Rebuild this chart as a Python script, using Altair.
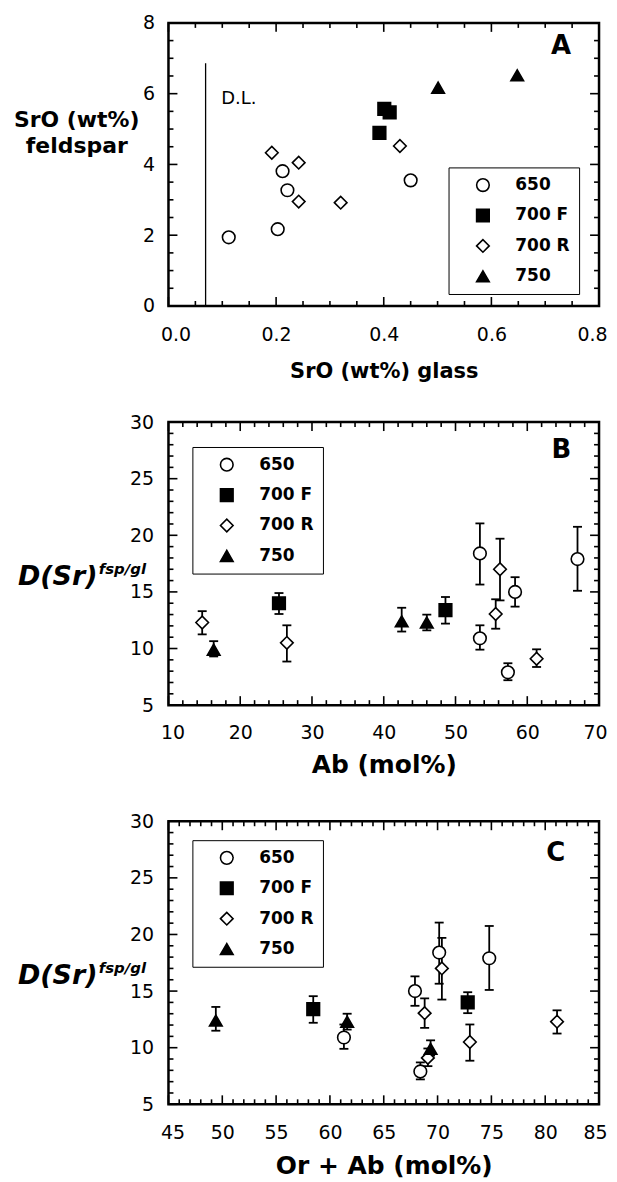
import altair as alt
import pandas as pd

W, H = 432, 284
FONT = "DejaVu Sans"

series_order = ["650", "700 F", "700 R", "750"]
shape_range = ["circle", "square", "diamond", "triangle-up"]
fill_range = ["white", "black", "white", "black"]
stroke_range = ["black", "black", "black", "black"]

# ---------------- Panel A: SrO feldspar vs SrO glass ----------------
a_650_glass = [0.112, 0.203, 0.212, 0.221, 0.450]
a_650_fsp = [1.94, 2.17, 3.81, 3.27, 3.55]
a_700f_glass = [0.392, 0.401, 0.411]
a_700f_fsp = [4.89, 5.57, 5.47]
a_700r_glass = [0.192, 0.242, 0.242, 0.320, 0.430]
a_700r_fsp = [4.33, 4.05, 2.95, 2.92, 4.52]
a_750_glass = [0.501, 0.648]
a_750_fsp = [6.17, 6.52]
dl_glass = [0.069]
dl_top = [6.86]
dl_text_pos = [0.098, 5.86]

# ---------------- Panels B & C: D(Sr) ----------------
ab_650 = [53.4, 67.0, 58.3, 53.4, 57.3]
orab_650 = [70.15, 74.8, 67.9, 61.3, 68.4]
d_650 = [18.4, 17.9, 15.0, 10.9, 7.9]
lo_650 = [15.65, 15.1, 13.7, 9.9, 7.2]
hi_650 = [21.05, 20.75, 16.3, 12.05, 8.7]

ab_700f = [25.4, 48.6]
orab_700f = [72.8, 58.45]
d_700f = [14.0, 13.4]
lo_700f = [13.05, 12.2]
hi_700f = [14.9, 14.55]

ab_700r = [56.2, 55.6, 14.7, 26.5, 61.3]
orab_700r = [70.4, 68.8, 81.1, 73.0, 69.1]
d_700r = [17.0, 13.05, 12.3, 10.5, 9.1]
lo_700r = [14.25, 11.75, 11.25, 8.85, 8.37]
hi_700r = [19.7, 14.35, 13.3, 12.05, 9.93]

ab_750 = [16.3, 42.5, 46.0]
orab_750 = [69.35, 49.4, 61.6]
d_750 = [9.9, 12.4, 12.3]
lo_750 = [9.3, 11.5, 11.6]
hi_750 = [10.65, 13.6, 13.0]


def frame(parts):
    rows = []
    for name, cols in parts:
        n = len(cols[0])
        for i in range(n):
            r = {"series": name, "x": cols[0][i], "y": cols[1][i]}
            if len(cols) > 2:
                r["lo"] = cols[2][i]
                r["hi"] = cols[3][i]
            rows.append(r)
    return pd.DataFrame(rows)


dfA = frame([
    ("650", [a_650_glass, a_650_fsp]),
    ("700 F", [a_700f_glass, a_700f_fsp]),
    ("700 R", [a_700r_glass, a_700r_fsp]),
    ("750", [a_750_glass, a_750_fsp]),
])
dfB = frame([
    ("650", [ab_650, d_650, lo_650, hi_650]),
    ("700 F", [ab_700f, d_700f, lo_700f, hi_700f]),
    ("700 R", [ab_700r, d_700r, lo_700r, hi_700r]),
    ("750", [ab_750, d_750, lo_750, hi_750]),
])
dfC = frame([
    ("650", [orab_650, d_650, lo_650, hi_650]),
    ("700 F", [orab_700f, d_700f, lo_700f, hi_700f]),
    ("700 R", [orab_700r, d_700r, lo_700r, hi_700r]),
    ("750", [orab_750, d_750, lo_750, hi_750]),
])


def ticks(lo, hi, major_step, minor_step):
    n = int(round((hi - lo) / minor_step))
    k = int(round(major_step / minor_step))
    allv = [float(round(lo + i * minor_step, 6)) for i in range(n + 1)]
    major = [v for i, v in enumerate(allv) if i % k == 0]
    minor = [v for i, v in enumerate(allv) if i % k != 0]
    return major, minor


def panel(df, xdom, xstep, xminor, ydom, ystep, yminor, xtitle, xtitle_size,
          xtitle_y, xlab_pad, ylab_pad, xfmt, legend_xy, letter, letter_xy,
          err, ytitle_layers, dl=False):
    xmaj, xmin = ticks(xdom[0], xdom[1], xstep, xminor)
    ymaj, ymin = ticks(ydom[0], ydom[1], ystep, yminor)
    xscale = alt.Scale(domain=xdom, nice=False, zero=False)
    yscale = alt.Scale(domain=ydom, nice=False, zero=False)
    common = dict(ticks=False, tickSize=0, domain=False, grid=False,
                  labelFont=FONT, labelFontSize=19, labelColor="black")
    xaxis = alt.Axis(values=xmaj, format=xfmt, title=xtitle, titleFont=FONT,
                     titleFontSize=xtitle_size, titleFontWeight="bold",
                     titleColor="black", titleY=xtitle_y,
                     titleBaseline="alphabetic", labelPadding=xlab_pad,
                     labelFlush=True, labelFlushOffset=8, **common)
    yaxis = alt.Axis(values=ymaj, title=None, labelPadding=ylab_pad,
                     labelFlush=False, **common)

    def X(f):
        return alt.X(f"{f}:Q", scale=xscale, axis=xaxis)

    def Y(f):
        return alt.Y(f"{f}:Q", scale=yscale, axis=yaxis)

    xspan = xdom[1] - xdom[0]
    yspan = ydom[1] - ydom[0]
    layers = []

    if dl:
        ddl = pd.DataFrame({"x": dl_glass, "y0": [0.0], "y1": dl_top})
        layers.append(alt.Chart(ddl).mark_rule(color="black", strokeWidth=1.3).encode(
            x=X("x"), y=Y("y0"), y2="y1"))
        dtx = pd.DataFrame({"x": [dl_text_pos[0]], "y": [dl_text_pos[1]]})
        layers.append(alt.Chart(dtx).mark_text(
            text="D.L.", font=FONT, fontSize=18, align="left", baseline="middle",
            color="black").encode(x=X("x"), y=Y("y")))

    if err:
        layers.append(alt.Chart(df).mark_rule(color="black", strokeWidth=1.8).encode(
            x=X("x"), y=Y("lo"), y2="hi"))
        for f in ["lo", "hi"]:
            layers.append(alt.Chart(df).mark_tick(
                color="black", orient="horizontal", size=9, thickness=1.8,
                opacity=1).encode(x=X("x"), y=Y(f)))

    leg = alt.Legend(title=None, orient="none", legendX=legend_xy[0],
                     legendY=legend_xy[1], padding=9, strokeColor="black",
                     fillColor="white", symbolSize=160,
                     symbolStrokeColor="black", symbolStrokeWidth=1.6,
                     symbolOpacity=1, symbolOffset=17, labelOffset=24,
                     clipHeight=17.5, rowPadding=11.5, labelFont=FONT,
                     labelFontSize=17, labelFontWeight="bold",
                     labelColor="black")
    layers.append(alt.Chart(df).mark_point(
        filled=True, size=160, strokeWidth=1.6, opacity=1
    ).encode(
        x=X("x"), y=Y("y"),
        shape=alt.Shape("series:N", scale=alt.Scale(domain=series_order, range=shape_range), legend=leg),
        fill=alt.Fill("series:N", scale=alt.Scale(domain=series_order, range=fill_range), legend=leg),
        stroke=alt.Stroke("series:N", scale=alt.Scale(domain=series_order, range=stroke_range), legend=leg),
    ))

    # inward tick marks on all four sides (tick lengths converted from pixels)
    for vals, ln in [(xmaj, 9), (xmin, 5)]:
        half = ln / 2 * yspan / H
        for pos in (ydom[0] + half, ydom[1] - half):
            d = pd.DataFrame({"x": vals, "tp": [pos] * len(vals)})
            layers.append(alt.Chart(d).mark_tick(
                color="black", orient="vertical", size=ln, thickness=1.6,
                opacity=1).encode(x=X("x"), y=Y("tp")))
    for vals, ln in [(ymaj, 9), (ymin, 5)]:
        half = ln / 2 * xspan / W
        for pos in (xdom[0] + half, xdom[1] - half):
            d = pd.DataFrame({"y": vals, "tp": [pos] * len(vals)})
            layers.append(alt.Chart(d).mark_tick(
                color="black", orient="horizontal", size=ln, thickness=1.6,
                opacity=1).encode(y=Y("y"), x=X("tp")))

    one = pd.DataFrame({"a": [0]})
    layers.append(alt.Chart(one).mark_text(
        text=letter, font=FONT, fontSize=26, fontWeight="bold", align="right",
        baseline="middle", color="black").encode(
        x=alt.value(letter_xy[0]), y=alt.value(letter_xy[1])))
    for spec in ytitle_layers:
        txt, x, y, size, style, align, lh = spec
        kw = dict(text=txt, font=FONT, fontSize=size, fontWeight="bold",
                  align=align, baseline="alphabetic", color="black")
        if style:
            kw["fontStyle"] = style
        if lh:
            kw["lineHeight"] = lh
        layers.append(alt.Chart(one).mark_text(**kw).encode(
            x=alt.value(x), y=alt.value(y)))

    return alt.layer(*layers).properties(width=W, height=H)


pA = panel(dfA, [0, 0.8], 0.2, 0.05, [0, 8], 2, 0.5, "SrO (wt%) glass", 21,
           71.5, 20, 14, ".1f", (281, 145), "A", (W - 28, 23), False,
           [(["SrO (wt%)", "feldspar"], -92, 104, 22, None, "center", 27)],
           dl=True)
dsr_title = [("D(Sr)", -151, 163, 27, "italic", "left", None),
             ("fsp/gl", -70, 152, 15, "italic", "left", None)]
pB = panel(dfB, [10, 70], 10, 2, [5, 30], 5, 1, "Ab (mol%)", 25, 67.3, 18, 15,
           "d", (24, 25), "B", (W - 28, 28), True, dsr_title)
pC = panel(dfC, [45, 85], 5, 1, [5, 30], 5, 1, "Or + Ab (mol%)", 25, 69, 19, 15,
           "d", (24, 19), "C", (W - 34, 32), True, dsr_title)

chart = alt.vconcat(pA, pB, pC, spacing=116.5, bounds="flush").resolve_scale(
    shape="independent", fill="independent", stroke="independent"
).resolve_legend(
    shape="independent", fill="independent", stroke="independent"
).configure(
    padding={"left": 4, "right": 0, "top": 2, "bottom": 0}, font=FONT
).configure_view(stroke="black", strokeWidth=2.5)

chart.save("out.html", embed_options={"renderer": "svg", "actions": False})
